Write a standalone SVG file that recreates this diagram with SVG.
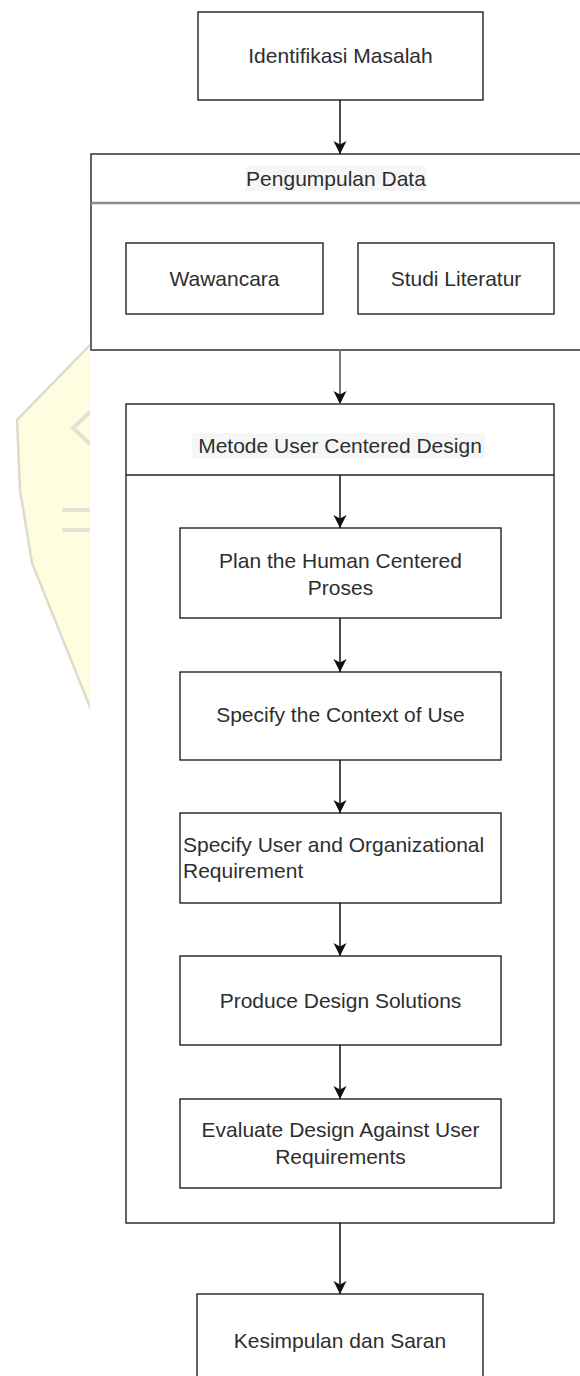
<svg xmlns="http://www.w3.org/2000/svg" width="580" height="1376" viewBox="0 0 580 1376">
  <style>
    .box { fill: #ffffff; stroke: #222222; stroke-width: 1.4; }
    .sep { stroke: #222222; stroke-width: 1.4; }
    .sep-grey { stroke: #8c8c8c; stroke-width: 2.5; }
    .lbl { font-family: "Liberation Sans", Arial, sans-serif; font-size: 21px; fill: #2e2e2e; text-anchor: middle; }
    .lbl-left { text-anchor: start; }
    .lbl-bg { fill: #f6f6f6; }
    .edge { stroke: #111111; stroke-width: 1.5; fill: none; marker-end: url(#arrow); }
    .edge-grey { stroke: #7a7a7a; stroke-width: 2; }
  </style>
  <defs>
    <marker id="arrow" markerUnits="userSpaceOnUse" markerWidth="14" markerHeight="14" refX="13" refY="6.5" orient="auto">
      <path d="M0,0 L13,6.5 L0,13 L3.5,6.5 Z" fill="#111111"/>
    </marker>
    <clipPath id="wm-clip">
      <rect x="0" y="0" width="90" height="1376"/>
    </clipPath>
  </defs>

  <rect x="0" y="0" width="580" height="1376" fill="#ffffff"/>

  <!-- pale crest in the left margin -->
  <g id="crest" clip-path="url(#wm-clip)">
    <polygon points="92,343 17,420 20,490 32,563 92,712" fill="#fffde0" stroke="#dcdbcc" stroke-width="2.5"/>
    <path d="M90,412 L73,428 L90,444" fill="none" stroke="#e2e1d4" stroke-width="4"/>
    <path d="M62,510 L90,510 M62,530 L90,530" fill="none" stroke="#e4e3d6" stroke-width="4"/>
  </g>

  <g id="n-identifikasi">
    <rect class="box" x="198" y="12" width="285" height="88"/>
    <text class="lbl" x="340.5" y="63">Identifikasi Masalah</text>
  </g>

  <g id="n-pengumpulan">
    <rect class="box" x="91" y="154" width="492" height="196"/>
    <line class="sep-grey" x1="91" y1="203" x2="583" y2="203"/>
    <rect class="lbl-bg" x="246" y="166" width="180" height="25"/>
    <text class="lbl" x="336" y="186">Pengumpulan Data</text>
  </g>

  <g id="n-wawancara">
    <rect class="box" x="126" y="243" width="197" height="71"/>
    <text class="lbl" x="224.5" y="286">Wawancara</text>
  </g>

  <g id="n-studi">
    <rect class="box" x="358" y="243" width="196" height="71"/>
    <text class="lbl" x="456" y="286">Studi Literatur</text>
  </g>

  <g id="n-metode">
    <rect class="box" x="126" y="404" width="428" height="819"/>
    <line class="sep" x1="126" y1="475" x2="554" y2="475"/>
    <rect class="lbl-bg" x="192" y="433" width="293" height="25"/>
    <text class="lbl" x="340" y="453">Metode User Centered Design</text>
  </g>

  <g id="n-plan">
    <rect class="box" x="180" y="528" width="321" height="90"/>
    <text class="lbl" x="340.5" y="568">Plan the Human Centered</text>
    <text class="lbl" x="340.5" y="595">Proses</text>
  </g>

  <g id="n-context">
    <rect class="box" x="180" y="672" width="321" height="88"/>
    <text class="lbl" x="340.5" y="722">Specify the Context of Use</text>
  </g>

  <g id="n-requirement">
    <rect class="box" x="180" y="813" width="321" height="90"/>
    <text class="lbl lbl-left" x="183" y="852">Specify User and Organizational</text>
    <text class="lbl lbl-left" x="183" y="878">Requirement</text>
  </g>

  <g id="n-produce">
    <rect class="box" x="180" y="956" width="321" height="89"/>
    <text class="lbl" x="340.5" y="1008">Produce Design Solutions</text>
  </g>

  <g id="n-evaluate">
    <rect class="box" x="180" y="1099" width="321" height="89"/>
    <text class="lbl" x="340.5" y="1137">Evaluate Design Against User</text>
    <text class="lbl" x="340.5" y="1164">Requirements</text>
  </g>

  <g id="n-kesimpulan">
    <rect class="box" x="197" y="1294" width="286" height="100"/>
    <text class="lbl" x="340" y="1348">Kesimpulan dan Saran</text>
  </g>

  <g id="connectors">
    <line class="edge" x1="340" y1="100" x2="340" y2="154"/>
    <line class="edge edge-grey" x1="340" y1="350" x2="340" y2="404"/>
    <line class="edge" x1="340" y1="475" x2="340" y2="528"/>
    <line class="edge" x1="340" y1="618" x2="340" y2="672"/>
    <line class="edge" x1="340" y1="760" x2="340" y2="813"/>
    <line class="edge" x1="340" y1="903" x2="340" y2="956"/>
    <line class="edge" x1="340" y1="1045" x2="340" y2="1099"/>
    <line class="edge" x1="340" y1="1223" x2="340" y2="1294"/>
  </g>
</svg>
